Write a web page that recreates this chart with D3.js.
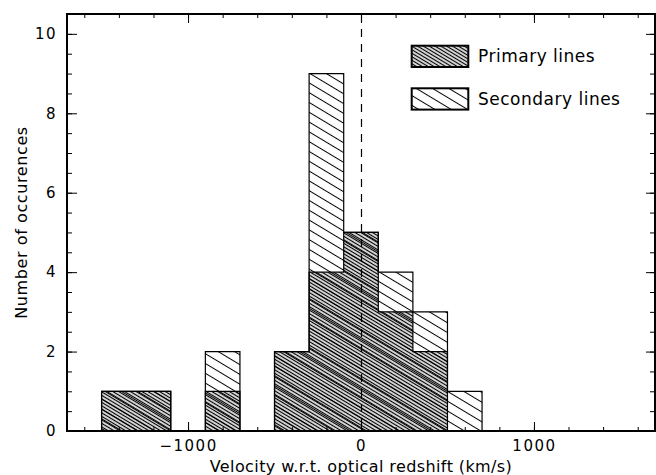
<!DOCTYPE html>
<html>
<head>
<meta charset="utf-8">
<script src="https://cdn.jsdelivr.net/npm/d3@7"></script>
<style>
  html, body { margin:0; padding:0; background:#fff; }
  svg text { font-family: "DejaVu Sans", sans-serif; fill:#000; }
</style>
</head>
<body>
<svg id="chart" width="656" height="475"></svg>
<script>
// histogram bins (left edge, km/s) and counts
const binLeft = [-1500, -1300, -900, -500, -300, -100, 100, 300, 500];
const binWidth = 200;
const primaryCounts   = [1, 1, 1, 2, 4, 5, 3, 2, 0];
const secondaryCounts = [0, 0, 1, 0, 5, 0, 1, 1, 1];

const xMajorTicks = [-1000, 0, 1000];
const yMajorTicks = [0, 2, 4, 6, 8, 10];
const legendLabels = ["Primary lines", "Secondary lines"];
const xTitle = "Velocity w.r.t. optical redshift (km/s)";
const yTitle = "Number of occurences";

const W = 656, H = 475;
const m = {l:67, r:1, t:14, b:44};
const svg = d3.select("#chart");

const x = d3.scaleLinear().domain([-1700, 1700]).range([m.l, W - m.r]);
const y = d3.scaleLinear().domain([0, 10.5]).range([H - m.b, m.t]);

// hatch patterns
const defs = svg.append("defs");
function hatch(id, spacing, width){
  const p = defs.append("pattern")
    .attr("id", id)
    .attr("patternUnits", "userSpaceOnUse")
    .attr("width", 30).attr("height", spacing)
    .attr("patternTransform", "rotate(31)");
  p.append("rect")
    .attr("x", 0).attr("y", (spacing - width)/2)
    .attr("width", 30).attr("height", width)
    .attr("fill", "#000");
}
hatch("hatchDense", 3, 1.35);
hatch("hatchSparse", 8.4, 1);

// step outline of a histogram, split into contiguous runs
function stepPath(counts){
  const y0 = y(0);
  let d = "", open = false, prevEnd = null, lastX = 0;
  counts.forEach((c, i)=>{
    if(c <= 0){
      if(open){ d += `L${lastX},${y0}Z`; open = false; }
      return;
    }
    const x0 = x(binLeft[i]), x1 = x(binLeft[i] + binWidth), yv = y(c);
    if(!open || binLeft[i] !== prevEnd){
      if(open) d += `L${lastX},${y0}Z`;
      d += `M${x0},${y0}`;
      open = true;
    }
    d += `L${x0},${yv}L${x1},${yv}`;
    prevEnd = binLeft[i] + binWidth;
    lastX = x1;
  });
  if(open) d += `L${lastX},${y0}Z`;
  return d;
}

const totalCounts = primaryCounts.map((v,i)=> v + secondaryCounts[i]);

svg.append("path")
  .attr("d", stepPath(totalCounts))
  .attr("fill", "url(#hatchSparse)")
  .attr("stroke", "#000").attr("stroke-width", 1.2);

svg.append("path")
  .attr("d", stepPath(primaryCounts))
  .attr("fill", "url(#hatchDense)")
  .attr("stroke", "#000").attr("stroke-width", 1.2);

// zero-velocity marker
svg.append("line")
  .attr("x1", x(0) + 0.5).attr("x2", x(0) + 0.5)
  .attr("y1", y.range()[1]).attr("y2", y(0))
  .attr("stroke", "#000").attr("stroke-width", 1.2)
  .attr("stroke-dasharray", "8,7");

// axes (ticks point inward)
const xMinor = d3.range(-1600, 1700, 200);
const yMinor = d3.range(0, 10.51, 0.5);

function styleAxis(g){
  g.select(".domain").remove();
  g.selectAll(".tick line").attr("stroke", "#000").attr("stroke-width", 1);
  g.selectAll("text").attr("font-size", 15).attr("fill", "#000")
    .style("font-family", '"DejaVu Sans", sans-serif');
}

svg.append("g").attr("transform", `translate(0,${y(0)})`)
  .call(d3.axisBottom(x).tickValues(xMinor).tickSize(-4).tickFormat(""))
  .call(styleAxis);
svg.append("g").attr("transform", `translate(0,${y(0)})`)
  .call(d3.axisBottom(x).tickValues(xMajorTicks).tickSize(-9).tickPadding(9).tickFormat(d3.format("d")))
  .call(styleAxis)
  .selectAll("text").attr("letter-spacing", 1.5);

svg.append("g").attr("transform", `translate(0,${m.t})`)
  .call(d3.axisTop(x).tickValues(xMinor).tickSize(-4).tickFormat(""))
  .call(styleAxis);
svg.append("g").attr("transform", `translate(0,${m.t})`)
  .call(d3.axisTop(x).tickValues(xMajorTicks).tickSize(-9).tickFormat(""))
  .call(styleAxis);

svg.append("g").attr("transform", `translate(${m.l},0)`)
  .call(d3.axisLeft(y).tickValues(yMinor).tickSize(-5).tickFormat(""))
  .call(styleAxis);
svg.append("g").attr("transform", `translate(${m.l},0)`)
  .call(d3.axisLeft(y).tickValues(yMajorTicks).tickSize(-10).tickPadding(10).tickFormat(d3.format("d")))
  .call(styleAxis)
  .selectAll("text").attr("letter-spacing", 1.5);

svg.append("g").attr("transform", `translate(${W - m.r},0)`)
  .call(d3.axisRight(y).tickValues(yMinor).tickSize(-5).tickFormat(""))
  .call(styleAxis);
svg.append("g").attr("transform", `translate(${W - m.r},0)`)
  .call(d3.axisRight(y).tickValues(yMajorTicks).tickSize(-9).tickFormat(""))
  .call(styleAxis);

// frame
svg.append("rect")
  .attr("x", m.l).attr("y", m.t)
  .attr("width", W - m.r - m.l).attr("height", y(0) - m.t)
  .attr("fill", "none").attr("stroke", "#000").attr("stroke-width", 2);

// titles
svg.append("text")
  .attr("x", (m.l + W - m.r)/2).attr("y", 472)
  .attr("text-anchor", "middle").attr("font-size", 16).attr("letter-spacing", 0.4)
  .text(xTitle);

svg.append("text")
  .attr("transform", `translate(27,${(m.t + y(0))/2}) rotate(-90)`)
  .attr("text-anchor", "middle").attr("font-size", 16).attr("letter-spacing", 0.6)
  .text(yTitle);

// legend
const legend = svg.append("g");
const fills = ["url(#hatchDense)", "url(#hatchSparse)"];
legendLabels.forEach((lab, i)=>{
  const ly = 45.7 + i*42.6;
  legend.append("rect")
    .attr("x", 411.7).attr("y", ly).attr("width", 56.6).attr("height", 21.3)
    .attr("fill", fills[i]).attr("stroke", "#000").attr("stroke-width", 2);
  legend.append("text")
    .attr("x", 478).attr("y", ly + 16.5)
    .attr("font-size", 17).attr("letter-spacing", 0.5)
    .text(lab);
});
</script>
</body>
</html>
